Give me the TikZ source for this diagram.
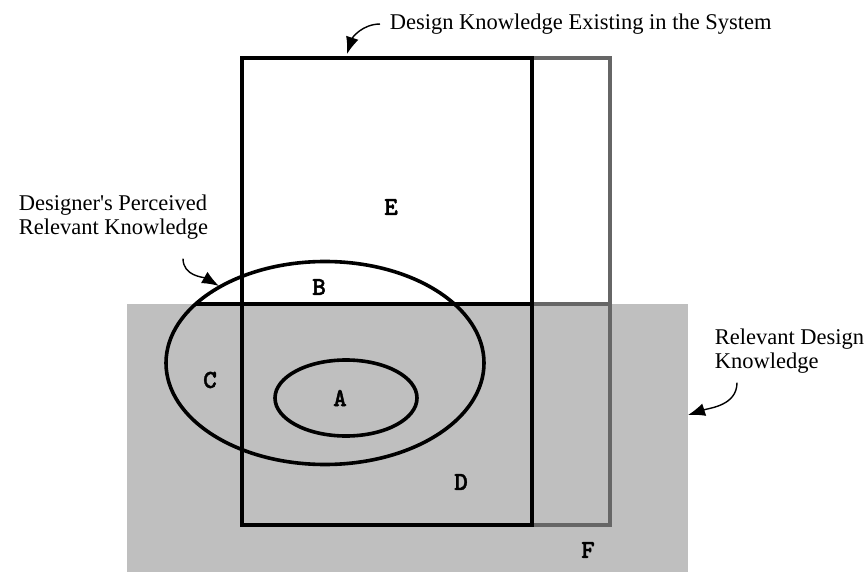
\documentclass[tikz,border=0pt]{standalone}
\usepackage{fontspec}
\setmainfont{Liberation Serif}
\newfontfamily\regionfont{lmmonolt10-bold.otf}[FakeBold=1.6]
\usetikzlibrary{arrows.meta,positioning}

\tikzset{
 region/.style={font=\regionfont\fontsize{26}{26}\selectfont},
 caption/.style={align=left,inner sep=1pt,font=\fontsize{22.5}{24.5}\selectfont},
 pointer/.style={-{Latex[length=17pt,width=13pt]},line width=1.4pt},
}

\begin{document}
\begin{tikzpicture}[x=1pt,y=-1pt,line width=3.6pt]
\useasboundingbox (0,0) rectangle (864,572);
% relevant design knowledge
\fill[black!25] (127,304) rectangle (688,572);
% existing knowledge
\draw[black!60] (532,58) rectangle (610,525);
\draw[black!60] (532,304) -- (610,304);
\draw (242,58) rectangle (532,525);
\draw (196,304) -- (532,304);
% perceived knowledge
\draw (325,363) ellipse [x radius=159,y radius=101.5];
\draw (346,398) ellipse [x radius=71,y radius=38];
% regions
\node[region] (regE) at (391,207) {E};
\node[region] (regB) at (319,287) {B};
\node[region] (regC) at (210,380) {C};
\node[region] (regA) at (340,398) {A};
\node[region] (regD) at (461,482) {D};
\node[region] (regF) at (588,550) {F};
% captions
\node[caption,anchor=north west] (sysLbl) at (387,11) {Design Knowledge Existing in the System};
\node[caption,anchor=north west] (percLbl) at (16,192) {Designer\textquotesingle s Perceived\\Relevant Knowledge};
\node[caption,anchor=north west] (relLbl) at (712,326) {Relevant Design\\Knowledge};
\coordinate (sysTip) at (347,54);
\coordinate (percTip) at (219,286);
\coordinate (relTip) at (688,415);
\draw[pointer] ([xshift=-7pt]sysLbl.west) to[out=180,in=72] (sysTip);
\draw[pointer] ([xshift=167pt,yshift=-16pt]percLbl.south west) to[out=-90,in=150] (percTip);
\draw[pointer] ([xshift=25pt,yshift=-6pt]relLbl.south west) to[out=-90,in=18] (relTip);
\end{tikzpicture}
\end{document}
